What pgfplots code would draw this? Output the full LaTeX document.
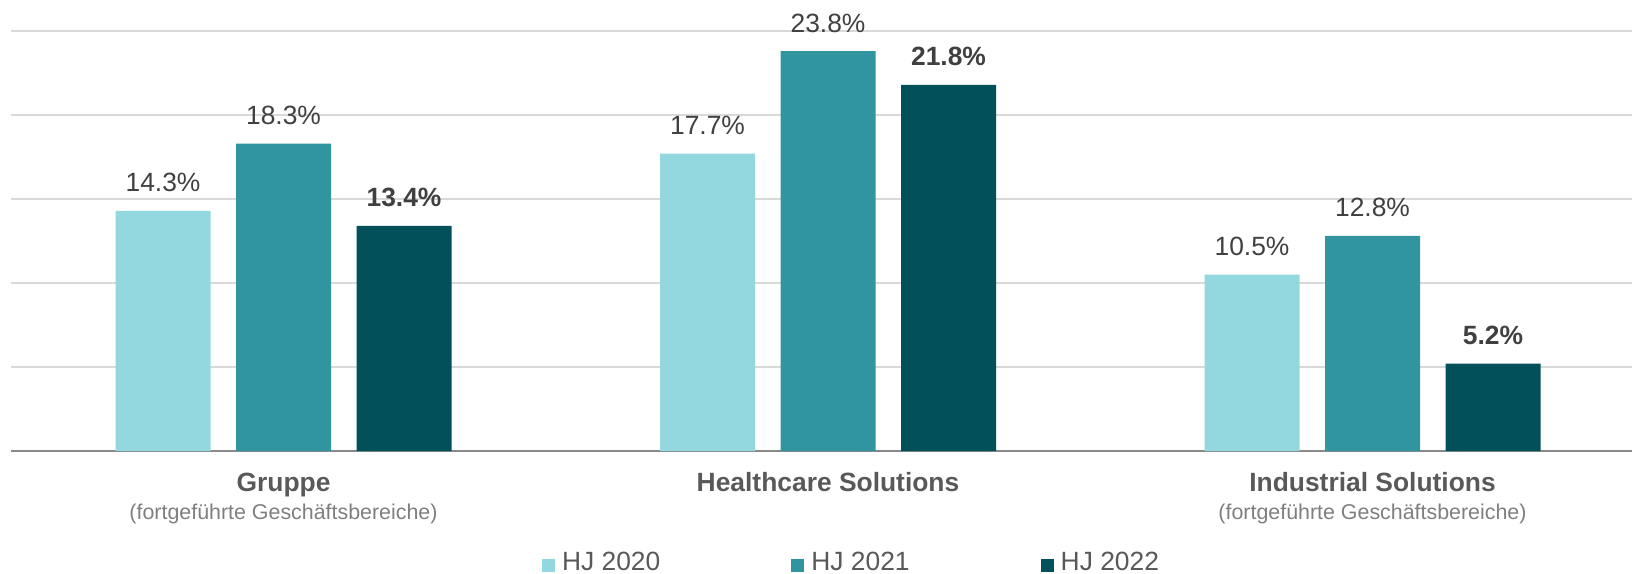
\documentclass[border=0pt]{standalone}
\usepackage{pgfplots}
\pgfplotsset{compat=1.18}
\usepackage{fontspec}
\setmainfont{Liberation Sans}
\definecolor{cA}{HTML}{94D8DF}
\definecolor{cB}{HTML}{3195A0}
\definecolor{cC}{HTML}{02505A}
\definecolor{lab}{HTML}{404040}
\definecolor{cat}{HTML}{595959}
\definecolor{sub}{HTML}{7F7F7F}
\definecolor{gridc}{HTML}{D9D9D9}
\definecolor{basec}{HTML}{898989}
\begin{document}
\begin{tikzpicture}
\begin{axis}[
  name=ax,
  scale only axis,
  width=810.5pt, height=210pt,
  xmin=-0.5005, xmax=2.4766,
  ymin=0, ymax=25,
  ybar, bar width=47.5pt, bar shift=0pt,
  axis x line*=bottom, axis y line*=left,
  x axis line style={draw=basec, line width=1pt, -},
  y axis line style={draw=none},
  xtick={0,1,2},
  xticklabels={Gruppe, Healthcare Solutions, Industrial Solutions},
  xticklabel style={font=\fontsize{13.2}{15}\selectfont\bfseries, text=cat, anchor=base, yshift=-20pt},
  extra x ticks={0,2},
  extra x tick labels={(fortgeführte Geschäftsbereiche),(fortgeführte Geschäftsbereiche)},
  extra x tick style={xticklabel style={font=\fontsize{10.7}{13}\selectfont, text=sub, yshift=-14pt}},
  major tick length=0pt,
  ytick={5,10,15,20,25},
  yticklabels={},
  ymajorgrids,
  grid style={draw=gridc, line width=0.75pt},
  /pgf/number format/assume math mode=true,
  nodes near coords={\pgfmathprintnumber[fixed,fixed zerofill,precision=1,assume math mode=true]{\pgfplotspointmeta}\%},
  nodes near coords style={anchor=base, yshift=9.5pt, text=lab, font=\fontsize{13.2}{15}\selectfont},
  clip=false,
  legend columns=3,
  legend style={at={(rel axis cs:0.3276,-0.2405)}, anchor=north west, draw=none, inner sep=0pt, outer sep=0pt,
    font=\fontsize{13.2}{15}\selectfont, text=cat, nodes={inner sep=0pt},
    /tikz/every odd column/.style={column sep=3.5pt},
    /tikz/every even column/.style={column sep=65.5pt}},
  legend image code/.code={\fill[#1] (0pt,-4.75pt) rectangle (6.5pt,1.75pt);},
]
\addplot[fill=cA, draw=none] coordinates {(-0.2213,14.3) (0.7787,17.7) (1.7787,10.5)};
\addplot[fill=cB, draw=none] coordinates {(0,18.3) (1,23.8) (2,12.8)};
\addplot[fill=cC, draw=none, nodes near coords style={font=\fontsize{13.2}{15}\selectfont\bfseries}] coordinates {(0.2213,13.4) (1.2213,21.8) (2.2213,5.2)};
\legend{HJ 2020, HJ 2021, HJ 2022}
\end{axis}
\pgfresetboundingbox
\path[use as bounding box] ([shift={(-5.5pt,-61pt)}]ax.south west) rectangle ([shift={(0pt,15.5pt)}]ax.north east);
\end{tikzpicture}
\end{document}
